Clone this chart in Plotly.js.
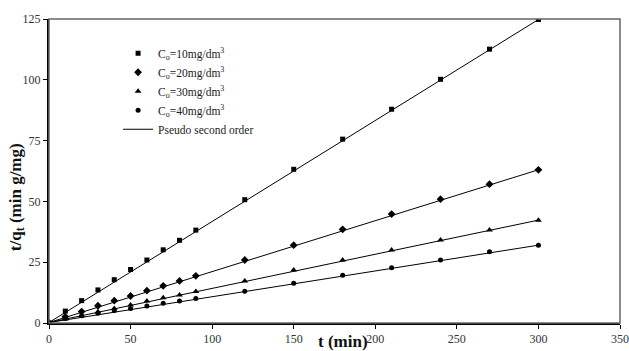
<!DOCTYPE html>
<html><head><meta charset="utf-8">
<script src="https://cdn.plot.ly/plotly-3.0.1.min.js"></script>
<style>html,body{margin:0;padding:0;background:#fff}#chart{width:629px;height:351px}</style>
</head><body><div id="chart"></div>
<script>
const time = [0,10,20,30,40,50,60,70,80,90,120,150,180,210,240,270,300];
const c10 = [0,4.9,9.2,13.6,17.8,22.0,25.9,30.1,34.0,38.2,50.7,63.2,75.6,87.9,100.2,112.6,124.8];
const c20 = [0,2.6,4.7,7.1,9.2,11.1,13.3,15.3,17.3,19.4,25.9,32.0,38.5,44.8,50.9,57.1,63.0];
const c30 = [0,1.6,3.0,4.6,6.0,7.4,9.0,10.4,11.5,13.0,17.3,21.8,25.9,30.0,34.1,38.2,42.3];
const c40 = [0,1.9,3.0,4.0,5.1,6.0,7.0,8.1,9.0,10.1,13.1,16.3,19.6,22.7,25.9,29.3,32.0];
const fitTime = [0,300];
const fit10 = [0.2,124.8];
const fit20 = [0.2,63.0];
const fit30 = [0.2,42.3];
const fit40 = [0.2,32.0];
const names = ['C<sub>o</sub>=10mg/dm<sup>3</sup>','C<sub>o</sub>=20mg/dm<sup>3</sup>','C<sub>o</sub>=30mg/dm<sup>3</sup>','C<sub>o</sub>=40mg/dm<sup>3</sup>'];
const symbols = ['square','diamond','triangle-up','circle'];
const sizes = [5,6,6,5];
const dataSets = [c10,c20,c30,c40];
const fits = [fit10,fit20,fit30,fit40];

const traces = [];
fits.forEach((f,i)=>{
  traces.push({x:fitTime,y:f,mode:'lines',line:{color:'#000',width:1},
    name:'Pseudo second order',showlegend:i===0,legendrank:10,hoverinfo:'skip'});
});
dataSets.forEach((d,i)=>{
  traces.push({x:time,y:d,mode:'markers',name:names[i],legendrank:i+1,
    marker:{symbol:symbols[i],size:sizes[i],color:'#000'}});
});

const serif = '"Liberation Serif", "Times New Roman", Times, serif';
const layout = {
  width:629,height:351,
  margin:{l:49,r:9,t:19,b:28},
  paper_bgcolor:'#fff',plot_bgcolor:'#fff',
  font:{family:serif,size:12,color:'#333'},
  showlegend:true,
  legend:{x:0.121,y:0.935,xanchor:'left',yanchor:'top',bgcolor:'rgba(0,0,0,0)',
    font:{family:serif,size:11.5,color:'#222'},tracegroupgap:0,itemwidth:30},
  xaxis:{range:[0,350],tickvals:[0,50,100,150,200,250,300,350],ticks:'outside',ticklen:4,
    tickfont:{family:serif,size:12,color:'#333'},
    tickcolor:'#000',showgrid:false,zeroline:false,showline:true,linecolor:'#000',linewidth:2},
  yaxis:{range:[0,125],tickvals:[0,25,50,75,100,125],ticks:'outside',ticklen:4,
    tickfont:{family:serif,size:12,color:'#333'},
    tickcolor:'#000',showgrid:false,zeroline:false,showline:true,linecolor:'#000',linewidth:2},
  annotations:[
    {text:'<b>t (min)</b>',xref:'paper',yref:'paper',x:0.515,y:-0.094,xanchor:'center',yanchor:'bottom',
      showarrow:false,borderpad:0,font:{family:serif,size:17,color:'#111'}},
    {text:'<b>t/q<sub>t</sub> (min g/mg)</b>',xref:'paper',yref:'paper',x:-0.056,y:0.414,
      xanchor:'center',yanchor:'middle',textangle:-90,showarrow:false,
      font:{family:serif,size:17,color:'#111'}}
  ],
  shapes:[{type:'rect',xref:'paper',yref:'paper',x0:0,x1:1,y0:0,y1:1,line:{color:'#666',width:1.5}}]
};
Plotly.newPlot('chart',traces,layout,{displayModeBar:false,staticPlot:true});
</script></body></html>
